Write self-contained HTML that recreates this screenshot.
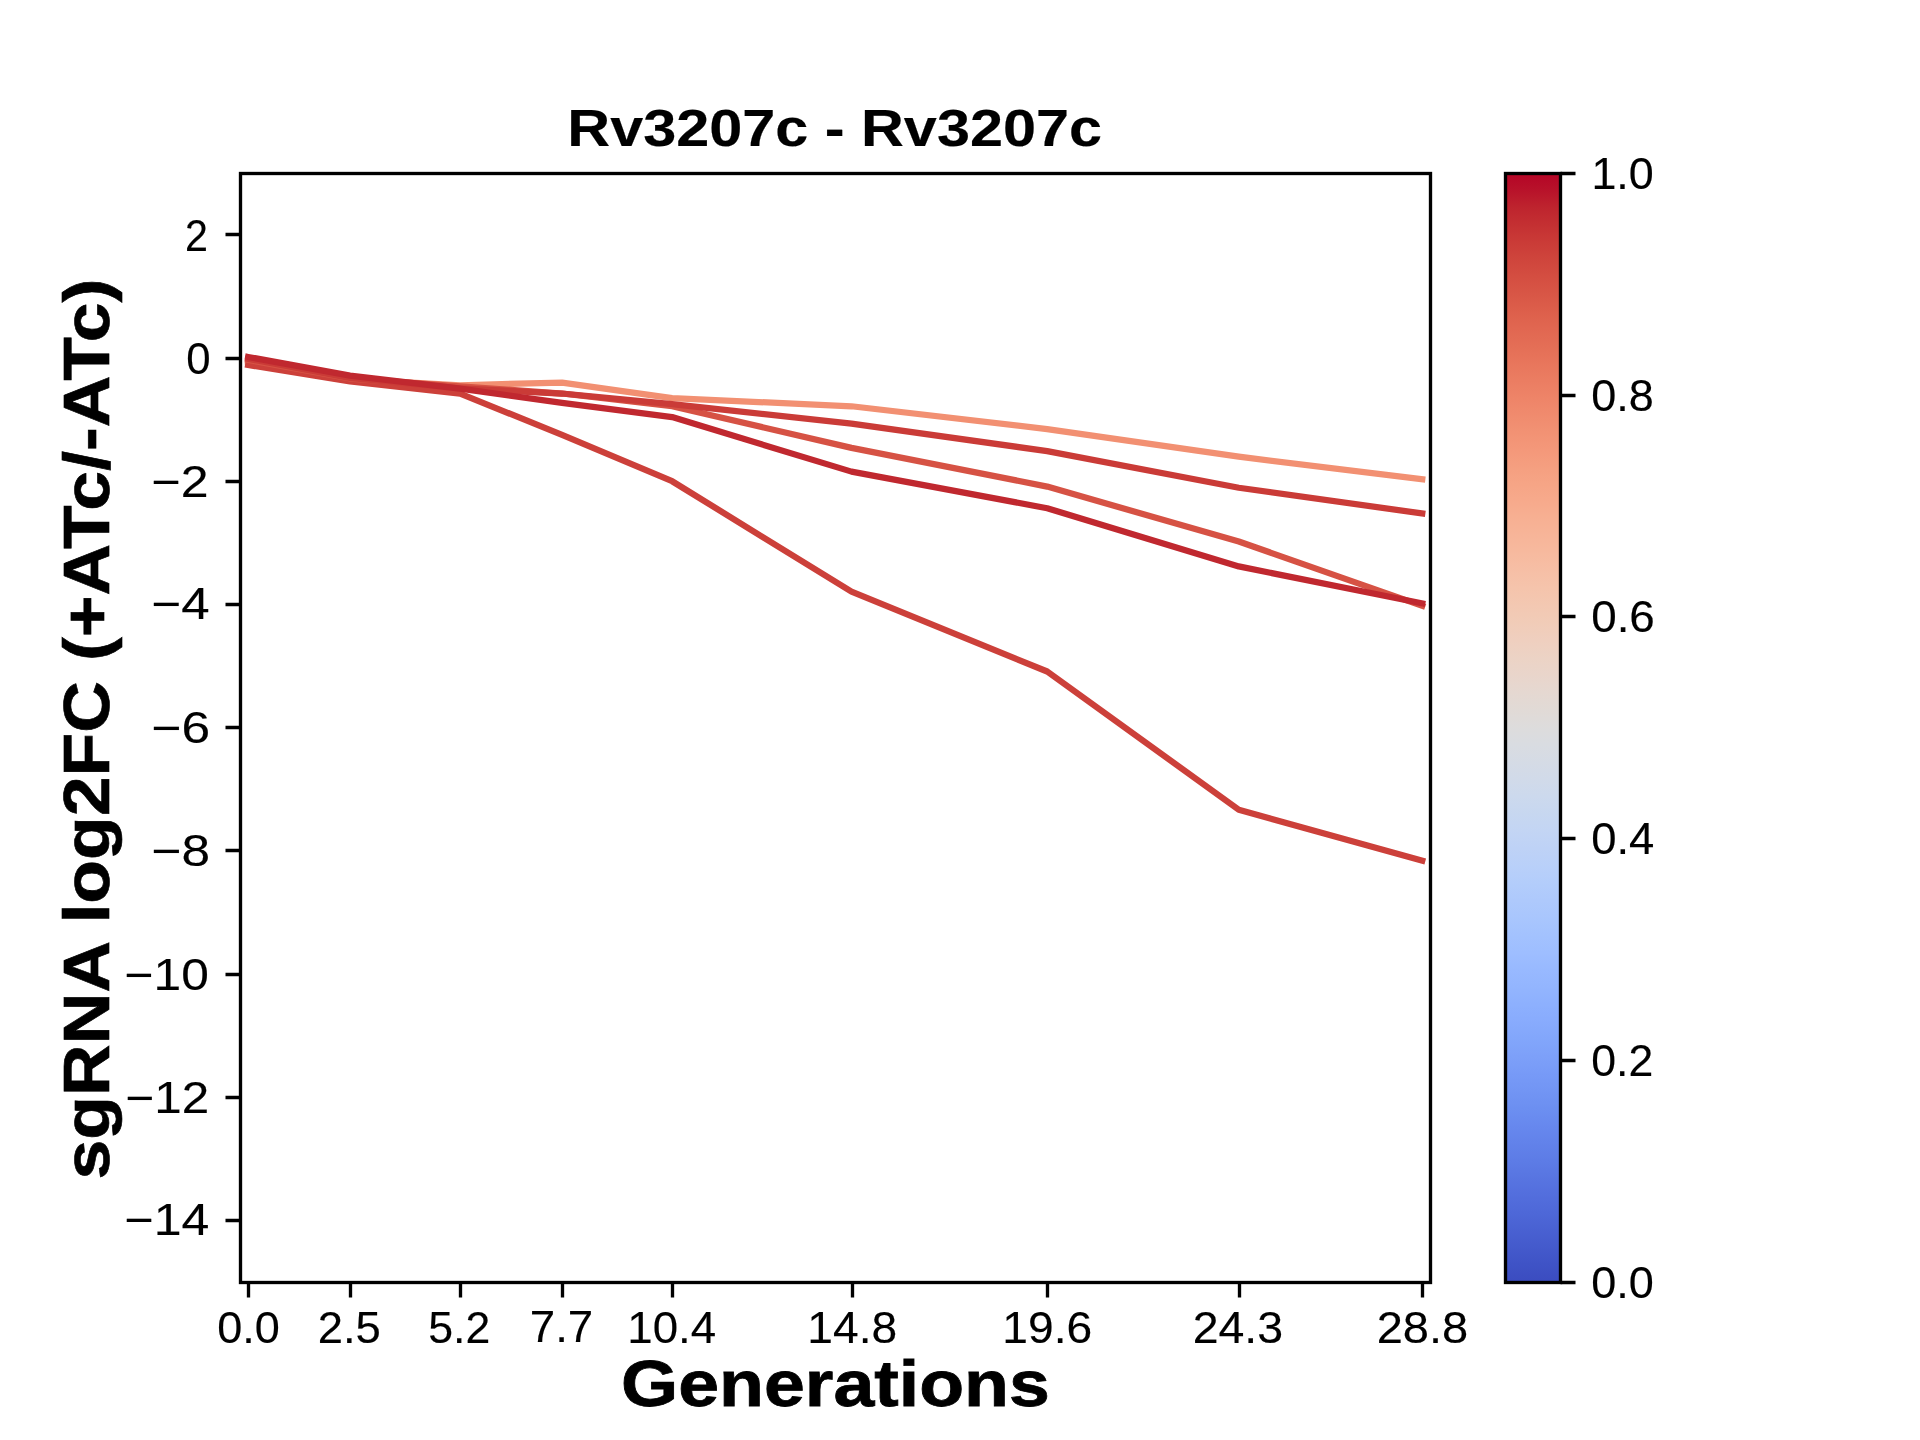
<!DOCTYPE html>
<html><head><meta charset="utf-8"><title>Rv3207c - Rv3207c</title>
<style>html,body{margin:0;padding:0;background:#fff;width:1920px;height:1440px;overflow:hidden}svg{display:block;will-change:transform;font-family:"Liberation Sans",sans-serif}</style>
</head><body>
<svg width="1920" height="1440" viewBox="0 0 1920 1440">
<rect width="1920" height="1440" fill="#fff"/>
<defs><clipPath id="ax"><rect x="240" y="172.8" width="1190.4" height="1108.8"/></clipPath><linearGradient id="cm" x1="0" y1="0" x2="0" y2="1"><stop offset="0.0000" stop-color="#b40426"/><stop offset="0.0156" stop-color="#b8122a"/><stop offset="0.0312" stop-color="#be242e"/><stop offset="0.0469" stop-color="#c43032"/><stop offset="0.0625" stop-color="#ca3b37"/><stop offset="0.0781" stop-color="#cf453c"/><stop offset="0.0938" stop-color="#d44e41"/><stop offset="0.1094" stop-color="#d85646"/><stop offset="0.1250" stop-color="#dd5f4b"/><stop offset="0.1406" stop-color="#e16751"/><stop offset="0.1562" stop-color="#e46e56"/><stop offset="0.1719" stop-color="#e8765c"/><stop offset="0.1875" stop-color="#eb7d62"/><stop offset="0.2031" stop-color="#ee8468"/><stop offset="0.2188" stop-color="#f08b6e"/><stop offset="0.2344" stop-color="#f29274"/><stop offset="0.2500" stop-color="#f4987a"/><stop offset="0.2656" stop-color="#f59f80"/><stop offset="0.2812" stop-color="#f6a586"/><stop offset="0.2969" stop-color="#f7aa8c"/><stop offset="0.3125" stop-color="#f7b093"/><stop offset="0.3281" stop-color="#f7b599"/><stop offset="0.3438" stop-color="#f7ba9f"/><stop offset="0.3594" stop-color="#f6bfa6"/><stop offset="0.3750" stop-color="#f5c4ac"/><stop offset="0.3906" stop-color="#f3c8b2"/><stop offset="0.4062" stop-color="#f1ccb8"/><stop offset="0.4219" stop-color="#efcfbf"/><stop offset="0.4375" stop-color="#ecd3c5"/><stop offset="0.4531" stop-color="#e9d5cb"/><stop offset="0.4688" stop-color="#e5d8d1"/><stop offset="0.4844" stop-color="#e1dad6"/><stop offset="0.5000" stop-color="#dddcdc"/><stop offset="0.5156" stop-color="#d9dce1"/><stop offset="0.5312" stop-color="#d5dbe5"/><stop offset="0.5469" stop-color="#d1dae9"/><stop offset="0.5625" stop-color="#ccd9ed"/><stop offset="0.5781" stop-color="#c7d7f0"/><stop offset="0.5938" stop-color="#c3d5f4"/><stop offset="0.6094" stop-color="#bed2f6"/><stop offset="0.6250" stop-color="#b9d0f9"/><stop offset="0.6406" stop-color="#b3cdfb"/><stop offset="0.6562" stop-color="#aec9fc"/><stop offset="0.6719" stop-color="#a9c6fd"/><stop offset="0.6875" stop-color="#a3c2fe"/><stop offset="0.7031" stop-color="#9ebeff"/><stop offset="0.7188" stop-color="#98b9ff"/><stop offset="0.7344" stop-color="#93b5fe"/><stop offset="0.7500" stop-color="#8db0fe"/><stop offset="0.7656" stop-color="#88abfd"/><stop offset="0.7812" stop-color="#82a6fb"/><stop offset="0.7969" stop-color="#7da0f9"/><stop offset="0.8125" stop-color="#779af7"/><stop offset="0.8281" stop-color="#7295f4"/><stop offset="0.8438" stop-color="#6c8ff1"/><stop offset="0.8594" stop-color="#6788ee"/><stop offset="0.8750" stop-color="#6282ea"/><stop offset="0.8906" stop-color="#5d7ce6"/><stop offset="0.9062" stop-color="#5875e1"/><stop offset="0.9219" stop-color="#536edd"/><stop offset="0.9375" stop-color="#4e68d8"/><stop offset="0.9531" stop-color="#4961d2"/><stop offset="0.9688" stop-color="#445acc"/><stop offset="0.9844" stop-color="#3f53c6"/><stop offset="1.0000" stop-color="#3b4cc0"/></linearGradient></defs><rect x="1504.8" y="172.8" width="55.44" height="1108.8" fill="url(#cm)"/><g clip-path="url(#ax)" fill="none" stroke-width="6.25" stroke-linecap="square" stroke-linejoin="round"><polyline points="248.15,361.91 350.07,379.16 460.14,385.26 562.06,382.55 672.13,398.07 851.51,406.26 1047.19,429.06 1238.79,456.71 1422.25,479.26" stroke="#f29072"/><polyline points="248.15,364.99 350.07,381.50 460.14,393.64 562.06,434.85 672.13,481.23 851.51,591.68 1047.19,671.51 1238.79,809.74 1422.25,860.63" stroke="#cc403a"/><polyline points="248.15,359.88 350.07,378.54 460.14,386.37 562.06,393.51 672.13,406.26 851.51,447.84 1047.19,486.59 1238.79,541.54 1422.25,605.85" stroke="#d65244"/><polyline points="248.15,358.83 350.07,377.93 460.14,388.40 562.06,393.51 672.13,404.11 851.51,423.70 1047.19,451.11 1238.79,487.76 1422.25,513.45" stroke="#ca3b37"/><polyline points="248.15,356.98 350.07,375.59 460.14,388.58 562.06,402.88 672.13,417.11 851.51,471.62 1047.19,508.21 1238.79,566.42 1422.25,603.38" stroke="#c0282f"/></g><rect x="240.5" y="173.5" width="1190" height="1109" fill="none" stroke="#000" stroke-width="3.333" stroke-linejoin="miter"/><rect x="1505.5" y="173.5" width="55" height="1109" fill="none" stroke="#000" stroke-width="3.333" stroke-linejoin="miter"/><path d="M248.5,1282.5V1297.5M350.5,1282.5V1297.5M460.5,1282.5V1297.5M562.5,1282.5V1297.5M672.5,1282.5V1297.5M852.5,1282.5V1297.5M1047.5,1282.5V1297.5M1239.5,1282.5V1297.5M1422.5,1282.5V1297.5M240.5,234.5H225.5M240.5,358.5H225.5M240.5,481.5H225.5M240.5,604.5H225.5M240.5,727.5H225.5M240.5,850.5H225.5M240.5,974.5H225.5M240.5,1097.5H225.5M240.5,1220.5H225.5M1560.5,173.5H1575.5M1560.5,395.5H1575.5M1560.5,616.5H1575.5M1560.5,838.5H1575.5M1560.5,1060.5H1575.5M1560.5,1282.5H1575.5" stroke="#000" stroke-width="3.333" fill="none"/><g font-family="Liberation Sans" fill="#000" stroke="#000"><text transform="matrix(0.59371,0,0,0.51408,567.34,146.49)" font-weight="bold" font-size="100" stroke-width="0.35">Rv3207c - Rv3207c</text><text transform="matrix(0.73478,0,0,0.64865,621.06,1406.35)" font-weight="bold" font-size="100" stroke-width="1.2">Generations</text><text transform="matrix(0,-0.71609,0.64860,0,108.90,1179.46)" font-weight="bold" font-size="100" stroke-width="1.0">sgRNA log2FC (+ATc/-ATc)</text><text transform="matrix(0.45038,0,0,0.43662,217.20,1342.56)" font-weight="normal" font-size="100" stroke-width="0.35">0.0</text><text transform="matrix(0.45385,0,0,0.43662,317.73,1342.56)" font-weight="normal" font-size="100" stroke-width="0.35">2.5</text><text transform="matrix(0.44615,0,0,0.43662,428.22,1342.56)" font-weight="normal" font-size="100" stroke-width="0.35">5.2</text><text transform="matrix(0.45736,0,0,0.43662,529.71,1342.13)" font-weight="normal" font-size="100" stroke-width="0.35">7.7</text><text transform="matrix(0.45652,0,0,0.43662,627.35,1342.56)" font-weight="normal" font-size="100" stroke-width="0.35">10.4</text><text transform="matrix(0.46154,0,0,0.43662,807.31,1342.56)" font-weight="normal" font-size="100" stroke-width="0.35">14.8</text><text transform="matrix(0.46154,0,0,0.43662,1002.31,1342.56)" font-weight="normal" font-size="100" stroke-width="0.35">19.6</text><text transform="matrix(0.46486,0,0,0.43662,1192.68,1342.56)" font-weight="normal" font-size="100" stroke-width="0.35">24.3</text><text transform="matrix(0.47027,0,0,0.43662,1376.65,1342.56)" font-weight="normal" font-size="100" stroke-width="0.35">28.8</text><text transform="matrix(0.50000,0,0,0.43662,124.50,1235.13)" font-weight="normal" font-size="100" stroke-width="0.35">−14</text><text transform="matrix(0.49375,0,0,0.43662,125.53,1112.56)" font-weight="normal" font-size="100" stroke-width="0.35">−12</text><text transform="matrix(0.49689,0,0,0.43662,124.52,989.56)" font-weight="normal" font-size="100" stroke-width="0.35">−10</text><text transform="matrix(0.51429,0,0,0.43662,151.43,865.56)" font-weight="normal" font-size="100" stroke-width="0.35">−8</text><text transform="matrix(0.51429,0,0,0.43662,151.43,742.56)" font-weight="normal" font-size="100" stroke-width="0.35">−6</text><text transform="matrix(0.50943,0,0,0.43662,151.45,619.13)" font-weight="normal" font-size="100" stroke-width="0.35">−4</text><text transform="matrix(0.50000,0,0,0.43662,151.50,496.56)" font-weight="normal" font-size="100" stroke-width="0.35">−2</text><text transform="matrix(0.43750,0,0,0.43662,186.25,373.56)" font-weight="normal" font-size="100" stroke-width="0.35">0</text><text transform="matrix(0.41304,0,0,0.43662,184.93,250.56)" font-weight="normal" font-size="100" stroke-width="0.35">2</text><text transform="matrix(0.45038,0,0,0.43662,1591.20,1297.56)" font-weight="normal" font-size="100" stroke-width="0.35">0.0</text><text transform="matrix(0.44615,0,0,0.43662,1591.22,1075.56)" font-weight="normal" font-size="100" stroke-width="0.35">0.2</text><text transform="matrix(0.45455,0,0,0.43662,1591.18,853.56)" font-weight="normal" font-size="100" stroke-width="0.35">0.4</text><text transform="matrix(0.45802,0,0,0.43662,1591.17,631.56)" font-weight="normal" font-size="100" stroke-width="0.35">0.6</text><text transform="matrix(0.45038,0,0,0.43662,1591.20,410.56)" font-weight="normal" font-size="100" stroke-width="0.35">0.8</text><text transform="matrix(0.44882,0,0,0.43662,1591.41,188.56)" font-weight="normal" font-size="100" stroke-width="0.35">1.0</text></g>
</svg>
</body></html>
